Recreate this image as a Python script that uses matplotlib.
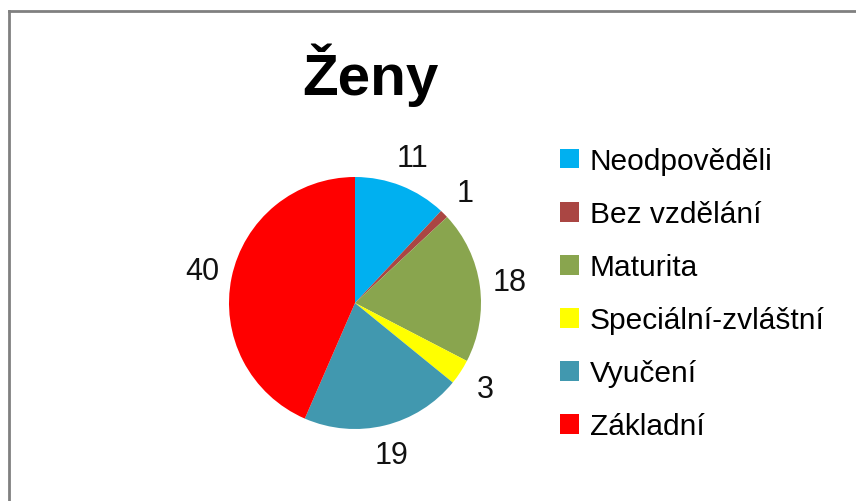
import matplotlib
matplotlib.use("Agg")
import matplotlib.pyplot as plt
from matplotlib.lines import Line2D

# Data
categories = ["Neodpověděli", "Bez vzdělání", "Maturita",
              "Speciální-zvláštní", "Vyučení", "Základní"]
counts = [11, 1, 18, 3, 19, 40]
colors = ["#00B0F0", "#AA4643", "#89A54E", "#FFFF00", "#4198AF", "#FF0000"]
title = "Ženy"

plt.rcParams['font.family'] = ['Liberation Sans', 'DejaVu Sans']

W, H = 856, 502
fig = plt.figure(figsize=(W / 100, H / 100), dpi=100)
fig.patch.set_facecolor("white")

# pie centre ~ (355, 304) px, radius ~126 px
cx, cy, r = 355, 304, 126
ax = fig.add_axes([(cx - r) / W, (H - cy - r) / H, 2 * r / W, 2 * r / H])

total = sum(counts)
wedges, texts, autotexts = ax.pie(
    counts, colors=colors, startangle=90, counterclock=False,
    autopct=lambda p: f"{round(p * total / 100)}", pctdistance=1.24,
    wedgeprops=dict(linewidth=0), textprops=dict(fontsize=22, color="#111111"))
ax.set_xlim(-1, 1)
ax.set_ylim(-1, 1)
ax.set_aspect("equal")
for t in autotexts:
    t.set_clip_on(False)

fig.text(370 / W, 1 - 95 / H, title, ha="center", va="baseline",
         fontsize=42, fontweight="bold")

fig.legend(wedges, categories, loc="upper left",
           bbox_to_anchor=(560 / W, 1 - 148 / H), frameon=False,
           fontsize=21.5, handlelength=0.65, handleheight=0.65,
           handletextpad=0.35, labelspacing=0.84, borderpad=0,
           borderaxespad=0)

# grey frame on top and left edges
fig.add_artist(Line2D([9 / W, 1], [1 - 12 / H, 1 - 12 / H], color="#808080", lw=2))
fig.add_artist(Line2D([9 / W, 9 / W], [0, 1 - 12 / H], color="#808080", lw=2))

fig.savefig("out.png", dpi=100)
